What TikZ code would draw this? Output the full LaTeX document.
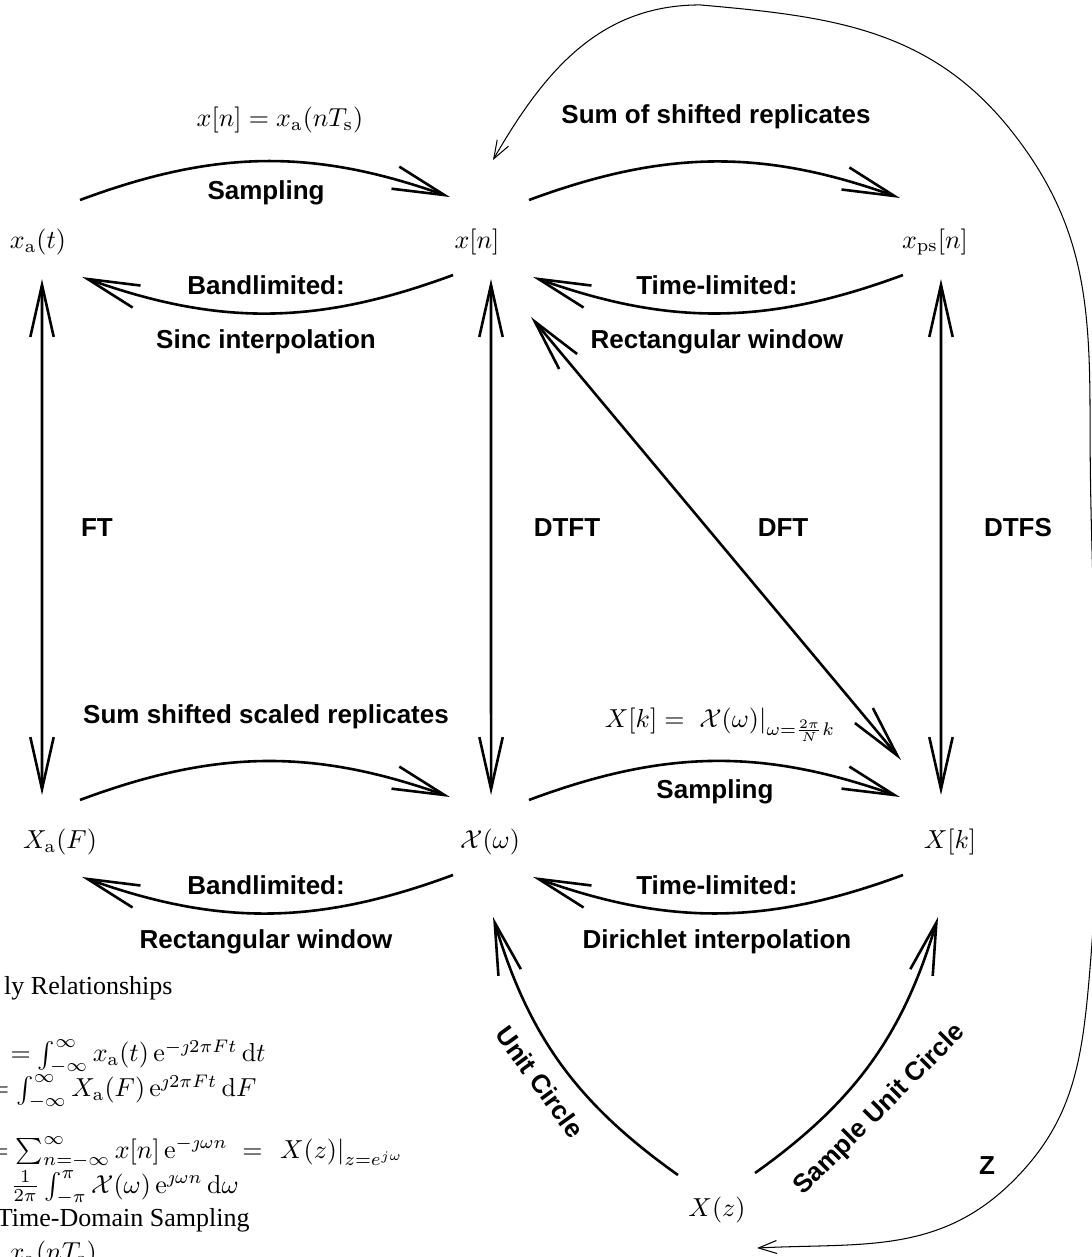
\documentclass[tikz,border=0pt]{standalone}
\usepackage{amsmath}
\usepackage{fontspec}
\setsansfont{Liberation Sans}
\newfontfamily\timesfont{Liberation Serif}
\usetikzlibrary{arrows.meta}

\begin{document}
\begin{tikzpicture}[draw=black!100]
	\def \rowoneht{13.72cm}
	\def \rowtwoht{5.61cm}
	\tikzstyle{s-node}=[inner sep=0pt]
	\tikzstyle{annot}=[font=\sffamily\bfseries]
	\tikzstyle{note}=[inner sep=0pt]
	\tikzstyle{fat}=[line width=1pt,-{Straight Barb[length=20pt,width=9pt]}]
	\tikzstyle{fatboth}=[line width=1pt,{Straight Barb[length=20pt,width=9pt]}-{Straight Barb[length=20pt,width=9pt]}]
	\tikzstyle{zline}=[line width=0.4pt,{Straight Barb[length=7pt,width=5pt]}-{Straight Barb[length=7pt,width=5pt]}]
	\useasboundingbox (0,0) rectangle (14.761,16.992);

	% signals
	\node[s-node] (xa)  at (0.514,\rowoneht)  {$x_{\mathrm{a}}(t)$};
	\node[s-node] (xn)  at (6.448,\rowoneht)  {$x[n]$};
	\node[s-node] (xps) at (12.639,\rowoneht) {$x_{\mathrm{ps}}[n]$};
	\node[s-node] (Xa)  at (0.811,\rowtwoht)  {$X_{\mathrm{a}}(F)$};
	\node[s-node] (Xw)  at (6.624,\rowtwoht)  {$\mathcal{X}(\omega)$};
	\node[s-node] (Xk)  at (12.842,\rowtwoht) {$X[k]$};
	\node[s-node] (Xz)  at (9.692,0.635)      {$X(z)$};

	% labels
	\node (sampeq) at (3.785,15.370) {$x[n] = x_{\mathrm{a}}(nT_{\mathrm{s}})$};
	\node[annot] (sumrep) at (9.679,15.411) {Sum of shifted replicates};
	\node[annot] (samp1) at (3.596,14.383) {Sampling};
	\node[annot] (band1) at (3.596,13.139) {Bandlimited:};
	\node[annot] (sinc)  at (3.596,12.369) {Sinc interpolation};
	\node[annot] (time1) at (9.692,13.139) {Time-limited:};
	\node[annot] (rect1) at (9.692,12.369) {Rectangular window};
	\node[annot] (ft)    at (1.311,9.855)  {FT};
	\node[annot] (dtft)  at (7.665,9.855)  {DTFT};
	\node[annot] (dft)   at (10.585,9.855) {DFT};
	\node[annot] (dtfs)  at (13.761,9.855) {DTFS};
	\node[annot] (sumsc) at (3.596,7.300)  {Sum shifted scaled replicates};
	\node (dfteq) at (9.733,7.192) {$X[k] = \,\left.\mathcal{X}(\omega)\right|_{\omega=\frac{2\pi}{N}k}$};
	\node[annot] (samp2) at (9.665,6.286)  {Sampling};
	\node[annot] (band2) at (3.596,5.029)  {Bandlimited:};
	\node[annot] (rect2) at (3.596,4.258)  {Rectangular window};
	\node[annot] (time2) at (9.692,5.029)  {Time-limited:};
	\node[annot] (diri)  at (9.692,4.258)  {Dirichlet interpolation};
	\node[annot,rotate=-54] (ucirc) at (7.300,2.366) {Unit Circle};
	\node[annot,rotate=45]  (sucirc) at (11.896,1.987) {Sample Unit Circle};
	\node[annot] (zlab) at (13.342,1.230) {Z};

	% relationships text
	\node[note,anchor=base east] (famrel)  at (2.339,3.542)  {\timesfont ly Relationships};
	\node[note,anchor=base west] (ftfwd)   at (0.135,2.636)  {$= \int_{-\infty}^{\infty} x_{\mathrm{a}}(t)\,\mathrm{e}^{-\jmath 2\pi F t}\,\mathrm{d}t$};
	\node[note,anchor=base east] (ftinv)   at (3.474,2.163)  {$= \int_{-\infty}^{\infty} X_{\mathrm{a}}(F)\,\mathrm{e}^{\jmath 2\pi F t}\,\mathrm{d}F$};
	\node[note,anchor=base west] (dtftfwd) at (-0.162,1.338) {$= \sum_{n=-\infty}^{\infty} x[n]\,\mathrm{e}^{-\jmath\omega n} \;=\; \left.X(z)\right|_{z=e^{j\omega}}$};
	\node[note,anchor=base west] (dtftinv) at (0.135,0.865)  {$\frac{1}{2\pi}\int_{-\pi}^{\pi}\mathcal{X}(\omega)\,\mathrm{e}^{\jmath\omega n}\,\mathrm{d}\omega$};
	\node[note,anchor=base east] (tdsamp)  at (3.380,0.406)  {\timesfont Time-Domain Sampling};
	\node[note,anchor=base west] (tdeq)    at (0.122,-0.054) {$x_{\mathrm{a}}(nT_{\mathrm{s}})$};

	% top row
	\draw[fat] ([shift={(0.568,0.568)}]xa.center) to[bend left=20] ([shift={(-0.365,0.608)}]xn.center);
	\draw[fat] ([shift={(0.703,0.568)}]xn.center) to[bend left=20] ([shift={(-0.473,0.595)}]xps.center);
	\draw[fat] ([shift={(-0.324,-0.446)}]xn.center) to[bend left=20] ([shift={(0.595,-0.473)}]xa.center);
	\draw[fat] ([shift={(-0.433,-0.446)}]xps.center) to[bend left=20] ([shift={(0.757,-0.473)}]xn.center);
	% bottom row
	\draw[fat] ([shift={(0.270,0.568)}]Xa.center) to[bend left=20] ([shift={(-0.541,0.608)}]Xw.center);
	\draw[fat] ([shift={(0.527,0.568)}]Xw.center) to[bend left=20] ([shift={(-0.676,0.608)}]Xk.center);
	\draw[fat] ([shift={(-0.500,-0.446)}]Xw.center) to[bend left=20] ([shift={(0.297,-0.473)}]Xa.center);
	\draw[fat] ([shift={(-0.635,-0.446)}]Xk.center) to[bend left=20] ([shift={(0.581,-0.473)}]Xw.center);
	% transforms
	\draw[fatboth] ([shift={(0.054,-0.500)}]xa.center) -- ([shift={(-0.243,0.635)}]Xa.center);
	\draw[fatboth] ([shift={(0.189,-0.500)}]xn.center) -- ([shift={(0.014,0.635)}]Xw.center);
	\draw[fatboth] ([shift={(0.081,-0.500)}]xps.center) -- ([shift={(-0.122,0.635)}]Xk.center);
	\draw[fatboth] ([shift={(0.730,-1.014)}]xn.center) -- ([shift={(-0.662,1.108)}]Xk.center);
	% z plane
	\draw[fat] ([shift={(-0.527,0.473)}]Xz.center) to[bend left=19] ([shift={(0.041,-1.014)}]Xw.center);
	\draw[fat] ([shift={(0.514,0.500)}]Xz.center) to[bend right=19] ([shift={(-0.162,-1.014)}]Xk.center);

	\coordinate (ztop)    at (9.463,16.925);
	\coordinate (zright)  at (13.694,15.194);
	\coordinate (zside)   at (14.735,11.315);
	\coordinate (zlow)    at (14.721,3.744);
	\coordinate (zcorner) at (13.653,0.987);
	\draw[zline] ([shift={(0.216,1.108)}]xn.center) to[out=60,in=180] (ztop)
		to[out=-5,in=128] (zright) to[out=-52,in=90] (zside)
		to[out=-90,in=85] (zlow) to[out=-95,in=44] (zcorner)
		to[out=-136,in=3] ([shift={(0.541,-0.514)}]Xz.center);
\end{tikzpicture}
\end{document}
